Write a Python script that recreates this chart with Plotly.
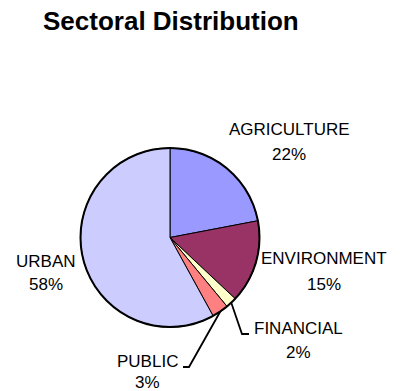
import math
import plotly.graph_objects as go

categories = ["AGRICULTURE", "ENVIRONMENT", "FINANCIAL", "PUBLIC", "URBAN"]
values = [22, 15, 2, 3, 58]
pct_labels = ["22%", "15%", "2%", "3%", "58%"]
colors = ["#9999FF", "#993366", "#FFFFCC", "#FF8080", "#CCCCFF"]

W, H = 405, 391
CX, CY, R = 170, 237.5, 89.5  # pixel centre / radius of pie

def px(x):
    return x / W

def py(y):
    return 1 - y / H

fig = go.Figure()
fig.add_trace(go.Pie(
    labels=categories, values=values, sort=False, direction="clockwise", rotation=0,
    marker=dict(colors=colors, line=dict(color="black", width=1)),
    textinfo="none", hoverinfo="label+percent", showlegend=False,
    domain=dict(x=[px(CX - R), px(CX + R)], y=[py(CY + R), py(CY - R)]),
))

# outer border
fig.add_shape(type="circle", xref="paper", yref="paper",
              x0=px(CX - R), x1=px(CX + R), y0=py(CY + R), y1=py(CY - R),
              line=dict(color="black", width=2))

# label layout (pixel positions: centre x, name line y, percent line y)
label_pos = {
    "AGRICULTURE": (289, 130, 154),
    "ENVIRONMENT": (324, 258, 284),
    "FINANCIAL": (298, 328, 352),
    "PUBLIC": (147, 361, 382),
    "URBAN": (46, 261, 284),
}
font = dict(family="Liberation Sans, Arial", size=17, color="black")
for cat, pct in zip(categories, pct_labels):
    x, y1, y2 = label_pos[cat]
    fig.add_annotation(x=px(x), y=py(y1), xref="paper", yref="paper", text=cat,
                       showarrow=False, font=font, xanchor="center", yanchor="middle")
    fig.add_annotation(x=px(x), y=py(y2), xref="paper", yref="paper", text=pct,
                       showarrow=False, font=font, xanchor="center", yanchor="middle")

# leader lines for small slices, starting at slice mid-angle on the rim
total = sum(values)
cum = 0
mid = {}
for cat, v in zip(categories, values):
    mid[cat] = (cum + v / 2) / total * 2 * math.pi
    cum += v
leader_ends = {
    "FINANCIAL": [(242, 334), (249, 334)],
    "PUBLIC": [(189, 367), (183, 367)],
}
for cat, pts in leader_ends.items():
    a = mid[cat]
    sx, sy = CX + R * math.sin(a), CY - R * math.cos(a)
    path = f"M {px(sx)} {py(sy)}" + "".join(f" L {px(x)} {py(y)}" for x, y in pts)
    fig.add_shape(type="path", xref="paper", yref="paper", path=path,
                  line=dict(color="black", width=1.8))

fig.update_layout(
    width=W, height=H, margin=dict(l=0, r=0, t=0, b=0),
    paper_bgcolor="white", plot_bgcolor="white",
    title=dict(text="<b>Sectoral Distribution</b>", x=px(43), xanchor="left",
               y=py(21), yanchor="middle",
               font=dict(family="Liberation Sans, Arial", size=26, color="black")),
)
fig.write_html("out.html")
